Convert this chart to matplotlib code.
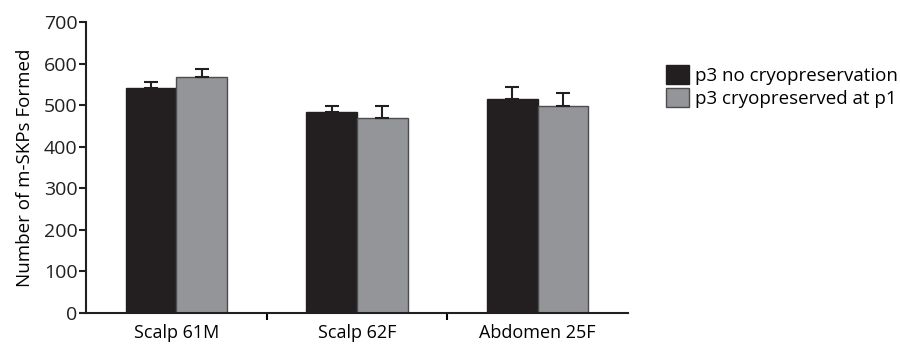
import numpy as np
import matplotlib.pyplot as plt

plt.rcParams['font.family'] = ['Open Sans', 'DejaVu Sans']

categories = ['Scalp 61M', 'Scalp 62F', 'Abdomen 25F']
no_cryo = [541, 483, 515]
no_cryo_err = [15, 15, 29]
cryo = [568, 469, 498]
cryo_err = [19, 29, 31]
labels = ['p3 no cryopreservation', 'p3 cryopreserved at p1']

fig = plt.figure(figsize=(9, 3.54), dpi=100)
ax = fig.add_axes([0.0956, 0.116, 0.602, 0.822])

x = np.arange(len(categories))
w = 0.28
ax.bar(x - w / 2, no_cryo, w, color='#231f20', edgecolor='#231f20',
       linewidth=1, label=labels[0])
ax.bar(x + w / 2, cryo, w, color='#939598', edgecolor='#4d4d4f',
       linewidth=1, label=labels[1])
ax.errorbar(x - w / 2, no_cryo, yerr=[np.zeros(3), no_cryo_err], fmt='none',
            ecolor='#231f20', elinewidth=1.5, capsize=5, capthick=1.5)
ax.errorbar(x + w / 2, cryo, yerr=[np.zeros(3), cryo_err], fmt='none',
            ecolor='#231f20', elinewidth=1.5, capsize=5, capthick=1.5)

ax.set_xlim(-0.5, 2.5)
ax.set_ylim(0, 700)
ax.set_yticks(range(0, 701, 100))
ax.set_xticks(x)
ax.set_xticklabels(categories, fontsize=13)
ax.tick_params(axis='x', length=0, pad=8)
ax.set_xticks([0.5, 1.5], minor=True)
ax.tick_params(axis='x', which='minor', length=5, width=1.5, direction='out')
ax.tick_params(axis='y', labelsize=14, length=5, width=1.5, pad=1,
               colors='#231f20')
ax.set_ylabel('Number of m-SKPs Formed', fontsize=13.5, labelpad=7)

for s in ['top', 'right']:
    ax.spines[s].set_visible(False)
for s in ['left', 'bottom']:
    ax.spines[s].set_linewidth(1.5)
    ax.spines[s].set_color('#231f20')

ax.legend(loc='upper left', bbox_to_anchor=(1.04, 0.91), frameon=False,
          fontsize=13.5, handlelength=1.2, handleheight=1.2,
          handletextpad=0.35, labelspacing=0.15)

fig.savefig('out.png', dpi=100)
